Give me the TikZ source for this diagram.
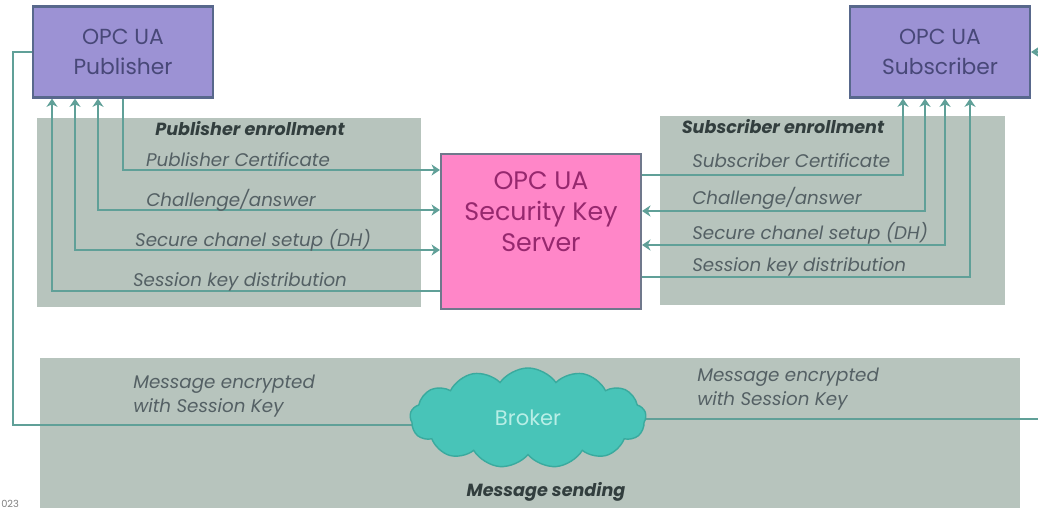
\documentclass[tikz,border=0pt]{standalone}
\usepackage{fontspec}
\setmainfont{Poppins}
\usetikzlibrary{arrows.meta,shapes.symbols}

\definecolor{panel}{RGB}{183,196,189}
\definecolor{flow}{RGB}{96,160,152}
\definecolor{actor}{RGB}{156,146,212}
\definecolor{actorline}{RGB}{88,104,140}
\definecolor{actortext}{RGB}{72,72,120}
\definecolor{sksfill}{RGB}{255,134,200}
\definecolor{sksline}{RGB}{112,120,140}
\definecolor{skstext}{RGB}{150,40,110}
\definecolor{cloudfill}{RGB}{72,196,184}
\definecolor{cloudline}{RGB}{58,170,158}
\definecolor{labeltext}{RGB}{84,96,100}
\definecolor{headtext}{RGB}{50,62,62}

\pgfdeclarelayer{back}
\pgfdeclarelayer{mid}
\pgfsetlayers{back,mid,main}

\tikzset{
	actorbox/.style={rectangle, draw=actorline, line width=1.5pt, fill=actor,
		minimum width=4.5cm, minimum height=2.275cm, align=center,
		text=actortext, font=\fontsize{15.5}{21}\selectfont},
	sksbox/.style={rectangle, draw=sksline, line width=1.5pt, fill=sksfill,
		minimum width=5cm, minimum height=3.875cm, align=center, text depth=1cm,
		text=skstext, font=\fontsize{18}{22}\selectfont},
	flowline/.style={draw=flow, line width=1.8pt},
	lbl/.style={inner sep=0pt, text=labeltext, font=\fontsize{13}{17}\selectfont\itshape},
	head/.style={inner sep=0pt, text=headtext, font=\fontsize{12.5}{14}\selectfont\bfseries\itshape},
}

\begin{document}
\begin{tikzpicture}[x=0.025cm, y=-0.025cm, >={Stealth[width=8pt,length=6pt]}]
\clip (0,0) rectangle (1038,510);

% Fondos
\begin{pgfonlayer}{back}
	\fill[panel] (37,118) rectangle (421,307);
	\fill[panel] (660,116) rectangle (1005,305);
	\fill[panel] (40,358) rectangle (1020,508);
\end{pgfonlayer}

\node[actorbox] (pub) at (123,52) {OPC UA\\Publisher};
\node[actorbox] (sub) at (940,52) {OPC UA\\Subscriber};
\node[sksbox, anchor=north] (sks) at (541,153) {OPC UA\\Security Key\\Server};
\node[cloud, cloud puffs=13, cloud puff arc=110, aspect=2.4, draw=cloudline, line width=1pt,
	fill=cloudfill, minimum width=5.9cm, minimum height=2.5cm,
	text={rgb,255:red,184;green,238;blue,230}, font=\fontsize{15}{17}\selectfont] (broker) at (528,418) {Broker};

% Publisher enrollment
\node[head] (pubhead) at (250,129) {Publisher enrollment};
\coordinate (p1) at (123,170);
\coordinate (p2) at (98,210);
\coordinate (p3) at (75,250);
\coordinate (p4) at (52,291);
\begin{pgfonlayer}{mid}
	\draw[flowline, ->] (pub.south -| p1) |- (sks.west |- p1);
	\draw[flowline, <->] (pub.south -| p2) |- (sks.west |- p2);
	\draw[flowline, <->] (pub.south -| p3) |- (sks.west |- p3);
	\draw[flowline, ->] (sks.west |- p4) -| (pub.south -| p4);
\end{pgfonlayer}
\node[lbl, anchor=base] (lpub1) at (238,167) {Publisher Certificate};
\node[lbl, anchor=base] (lpub2) at (231,207) {Challenge/answer};
\node[lbl, anchor=base] (lpub3) at (253,247) {Secure chanel setup (DH)};
\node[lbl, anchor=base] (lpub4) at (240,287) {Session key distribution};

% Subscriber enrollment
\node[head] (subhead) at (783,127) {Subscriber enrollment};
\coordinate (s1) at (903,175);
\coordinate (s2) at (925,211);
\coordinate (s3) at (945,245);
\coordinate (s4) at (970,277);
\begin{pgfonlayer}{mid}
	\draw[flowline, ->] (sks.east |- s1) -| (sub.south -| s1);
	\draw[flowline, <->] (sks.east |- s2) -| (sub.south -| s2);
	\draw[flowline, <->] (sks.east |- s3) -| (sub.south -| s3);
	\draw[flowline, ->] (sks.east |- s4) -| (sub.south -| s4);
\end{pgfonlayer}
\node[lbl, anchor=base west] (lsub1) at (692,168) {Subscriber Certificate};
\node[lbl, anchor=base west] (lsub2) at (692,205) {Challenge/answer};
\node[lbl, anchor=base west] (lsub3) at (692,240) {Secure chanel setup (DH)};
\node[lbl, anchor=base west] (lsub4) at (692,272) {Session key distribution};

% Message sending
\coordinate (lft) at (13,425);
\coordinate (rgt) at (1060,419);
\begin{pgfonlayer}{mid}
	\draw[flowline] (pub.west) -| (lft) -- (broker.center |- lft);
	\draw[flowline, ->] (broker.center |- rgt) -- (rgt) |- (sub.east);
\end{pgfonlayer}
\node[lbl, anchor=north west, align=left] (lmsg1) at (133,375) {Message encrypted\\with Session Key};
\node[lbl, anchor=north west, align=left] (lmsg2) at (697,368) {Message encrypted\\with Session Key};
\node[head] (msghead) at (546,492) {Message sending};

\node[anchor=south west, inner sep=0pt, text=gray, font=\fontsize{7}{8}\selectfont] (year) at (1,508) {023};
\end{tikzpicture}
\end{document}
